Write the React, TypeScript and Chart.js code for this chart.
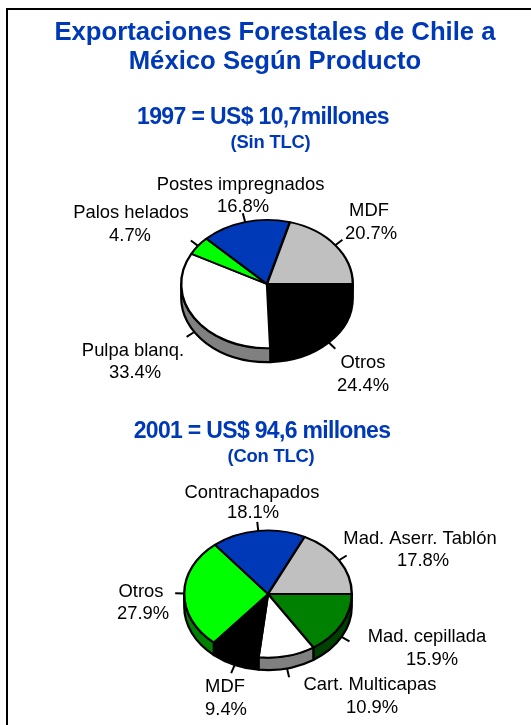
import React, { useEffect, useRef } from "react";
import { Chart, registerables } from "chart.js";

Chart.register(...registerables);

const PAGE_W = 531;
const PAGE_H = 725;
const SPLIT_Y = 405;
const FONT = '"Liberation Sans", Arial, sans-serif';
const BLUE = "#0039B8";

// ---- data ----
const categories1997 = ["Otros", "Pulpa blanq.", "Palos helados", "Postes impregnados", "MDF"];
const values1997 = [24.4, 33.4, 4.7, 16.8, 20.7];
const colors1997 = ["#000000", "#FFFFFF", "#00FF00", "#0039B8", "#C0C0C0"];
const sides1997 = ["#000000", "#808080", "#008000", "#001C5C", "#606060"];

const categories2001 = ["Mad. cepillada", "Cart. Multicapas", "MDF", "Otros", "Contrachapados", "Mad. Aserr. Tablón"];
const values2001 = [15.9, 10.9, 9.4, 27.9, 18.1, 17.8];
const colors2001 = ["#008000", "#FFFFFF", "#000000", "#00FF00", "#0039B8", "#C0C0C0"];
const sides2001 = ["#004000", "#808080", "#000000", "#008000", "#001C5C", "#606060"];

const titleLines = ["Exportaciones Forestales de Chile a", "México Según Producto"];
const heading1997 = "1997 = US$ 10,7millones";
const subheading1997 = "(Sin TLC)";
const heading2001 = "2001 = US$ 94,6 millones";
const subheading2001 = "(Con TLC)";

// ---- layout (page coordinates) ----
type TextItem = { t: string; x: number; y: number; font: string; color: string; spacing?: string };
const sliceFont = `18.4px ${FONT}`;
const ink = "#000000";

const texts1997: TextItem[] = [
  { t: titleLines[0], x: 275, y: 33, font: `bold 25.7px ${FONT}`, color: BLUE },
  { t: titleLines[1], x: 275, y: 62, font: `bold 25.7px ${FONT}`, color: BLUE },
  { t: heading1997, x: 263, y: 117.5, font: `bold 23px ${FONT}`, color: BLUE, spacing: "-0.64px" },
  { t: subheading1997, x: 270.5, y: 142.5, font: `bold 18.4px ${FONT}`, color: BLUE, spacing: "-0.2px" },
  { t: categories1997[3], x: 240.5, y: 184.5, font: sliceFont, color: ink },
  { t: "16.8%", x: 243, y: 207, font: sliceFont, color: ink },
  { t: categories1997[2], x: 131, y: 212.5, font: sliceFont, color: ink },
  { t: "4.7%", x: 130, y: 235.5, font: sliceFont, color: ink },
  { t: categories1997[4], x: 369, y: 211, font: sliceFont, color: ink },
  { t: "20.7%", x: 371, y: 233.5, font: sliceFont, color: ink },
  { t: categories1997[0], x: 363, y: 362.5, font: sliceFont, color: ink },
  { t: "24.4%", x: 363, y: 385.5, font: sliceFont, color: ink },
  { t: categories1997[1], x: 133, y: 350.5, font: sliceFont, color: ink },
  { t: "33.4%", x: 135, y: 372.5, font: sliceFont, color: ink },
];

const texts2001: TextItem[] = [
  { t: heading2001, x: 262, y: 431.5, font: `bold 23px ${FONT}`, color: BLUE, spacing: "-0.68px" },
  { t: subheading2001, x: 271, y: 456.5, font: `bold 18.4px ${FONT}`, color: BLUE, spacing: "-0.2px" },
  { t: categories2001[4], x: 252, y: 492.5, font: sliceFont, color: ink },
  { t: "18.1%", x: 253, y: 513, font: sliceFont, color: ink },
  { t: categories2001[5], x: 420, y: 538.5, font: sliceFont, color: ink },
  { t: "17.8%", x: 423, y: 560.5, font: sliceFont, color: ink },
  { t: categories2001[0], x: 427, y: 636.5, font: sliceFont, color: ink },
  { t: "15.9%", x: 432, y: 659.5, font: sliceFont, color: ink },
  { t: categories2001[1], x: 370, y: 684.5, font: sliceFont, color: ink },
  { t: "10.9%", x: 372, y: 707.5, font: sliceFont, color: ink },
  { t: categories2001[2], x: 225, y: 686.5, font: sliceFont, color: ink },
  { t: "9.4%", x: 226, y: 709.5, font: sliceFont, color: ink },
  { t: categories2001[3], x: 141, y: 591.5, font: sliceFont, color: ink },
  { t: "27.9%", x: 143, y: 613.5, font: sliceFont, color: ink },
];

type PieSpec = {
  top: number;
  height: number;
  cx: number;
  cy: number;
  rx: number;
  ry: number;
  depth: number;
  labels: string[];
  values: number[];
  colors: string[];
  sides: string[];
  texts: TextItem[];
};

const pies: PieSpec[] = [
  { top: 0, height: SPLIT_Y, cx: 267, cy: 284, rx: 87, ry: 65, depth: 14, labels: categories1997, values: values1997, colors: colors1997, sides: sides1997, texts: texts1997 },
  { top: SPLIT_Y, height: PAGE_H - SPLIT_Y, cx: 268, cy: 594, rx: 85, ry: 64.5, depth: 12.5, labels: categories2001, values: values2001, colors: colors2001, sides: sides2001, texts: texts2001 },
];

const makePlugin = (spec: PieSpec) => {
  const tilt = spec.ry / spec.rx;
  return {
    id: "tiltedPie",
    beforeDatasetsDraw(chart: any) {
      const ctx = chart.ctx;
      const arcs = chart.getDatasetMeta(0).data;
      const cx = arcs[0].x;
      const cy = arcs[0].y;
      const r = arcs[0].outerRadius;
      const ry = r * tilt;
      ctx.save();
      ctx.lineWidth = 2.2;
      ctx.strokeStyle = "#000000";
      ctx.lineJoin = "round";
      // side wall of the disc: only the near half of each slice shows
      arcs.forEach((arc: any, i: number) => {
        const two = Math.PI * 2;
        let a0 = arc.startAngle % two;
        if (a0 < 0) a0 += two;
        const a1 = a0 + (arc.endAngle - arc.startAngle);
        const s = Math.max(a0, 0);
        const e = Math.min(a1, Math.PI);
        if (e <= s) return;
        ctx.beginPath();
        ctx.ellipse(cx, cy, r, ry, 0, s, e);
        ctx.ellipse(cx, cy + spec.depth, r, ry, 0, e, s, true);
        ctx.closePath();
        ctx.fillStyle = spec.sides[i];
        ctx.fill();
        ctx.stroke();
      });
      ctx.restore();
      ctx.save();
      ctx.translate(cx, cy);
      ctx.scale(1, tilt);
      ctx.translate(-cx, -cy);
    },
    afterDatasetsDraw(chart: any) {
      const ctx = chart.ctx;
      ctx.restore();
      const arcs = chart.getDatasetMeta(0).data;
      ctx.save();
      ctx.strokeStyle = "#000000";
      ctx.lineWidth = 2;
      arcs.forEach((arc: any) => {
        const mid = (arc.startAngle + arc.endAngle) / 2;
        const c = Math.cos(mid);
        const n = Math.sin(mid);
        const px = arc.x + arc.outerRadius * c;
        const py = arc.y + arc.outerRadius * tilt * n + (n > 0.1 ? spec.depth : 0);
        ctx.beginPath();
        ctx.moveTo(px, py);
        ctx.lineTo(px + c * 9, py + n * 9);
        ctx.stroke();
      });
      ctx.textAlign = "center";
      ctx.textBaseline = "middle";
      spec.texts.forEach((item) => {
        ctx.font = item.font;
        ctx.fillStyle = item.color;
        ctx.letterSpacing = item.spacing ?? "0px";
        ctx.fillText(item.t, item.x, item.y - spec.top);
      });
      ctx.restore();
    },
  };
};

function PieCanvas({ spec }: { spec: PieSpec }) {
  const ref = useRef<HTMLCanvasElement>(null);
  useEffect(() => {
    const localCy = spec.cy - spec.top;
    const chart = new Chart(ref.current as HTMLCanvasElement, {
      type: "pie",
      data: {
        labels: spec.labels,
        datasets: [
          {
            data: spec.values,
            backgroundColor: spec.colors,
            borderColor: "#000000",
            borderWidth: 2.4,
            clip: false,
          } as any,
        ],
      },
      options: {
        responsive: false,
        animation: false,
        events: [],
        rotation: 90,
        layout: {
          padding: {
            left: spec.cx - spec.rx,
            right: PAGE_W - spec.cx - spec.rx,
            top: localCy - spec.rx,
            bottom: spec.height - localCy - spec.rx,
          },
        },
        plugins: { legend: { display: false }, tooltip: { enabled: false }, title: { display: false } },
      },
      plugins: [makePlugin(spec)],
    });
    return () => chart.destroy();
  }, [spec]);
  return (
    <div style={{ position: "absolute", left: 0, top: spec.top, width: PAGE_W, height: spec.height }}>
      <canvas ref={ref} width={PAGE_W} height={spec.height} />
    </div>
  );
}

export default function App() {
  return (
    <div style={{ position: "fixed", left: 0, top: 0, width: PAGE_W, height: PAGE_H, background: "#fff", overflow: "hidden" }}>
      {pies.map((spec) => (
        <PieCanvas key={spec.top} spec={spec} />
      ))}
      <div style={{ position: "absolute", left: 6, top: 8, width: PAGE_W, height: 2, background: "#000" }} />
      <div style={{ position: "absolute", left: 6, top: 8, width: 2, height: PAGE_H, background: "#000" }} />
    </div>
  );
}
